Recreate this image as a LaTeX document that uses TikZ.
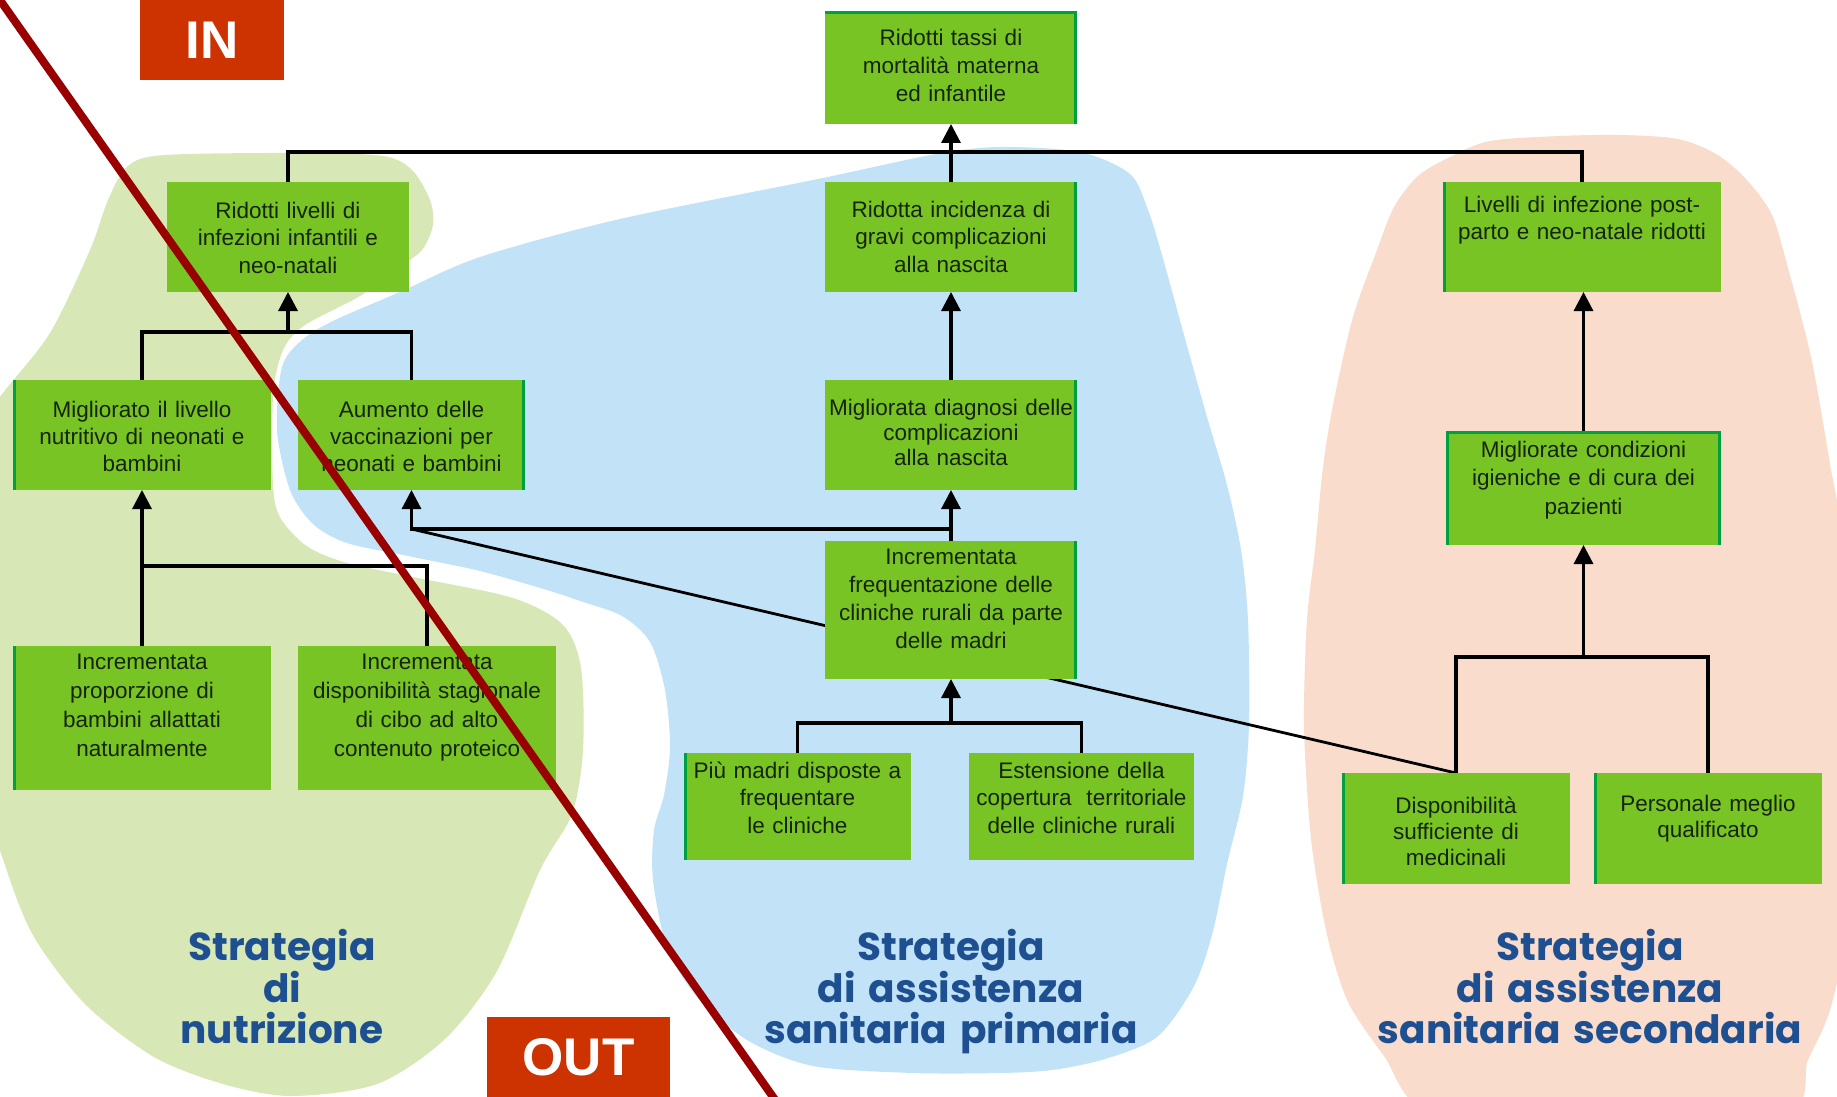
\documentclass[tikz,border=0pt]{standalone}
\usepackage{fontspec}
\setmainfont{Liberation Sans}
\newfontfamily\titlefont{Poppins}
\usetikzlibrary{arrows.meta}

\definecolor{boxgreen}{HTML}{78C424}
\definecolor{accentgreen}{HTML}{00A040}
\definecolor{blobgreen}{HTML}{D7E7B6}
\definecolor{blobblue}{HTML}{C2E3F7}
\definecolor{blobpink}{HTML}{F9DCCC}
\definecolor{titleblue}{HTML}{1D4F91}
\definecolor{tagred}{HTML}{CC3300}
\definecolor{slashred}{HTML}{990000}
\definecolor{inktext}{HTML}{16240A}

\pgfdeclarelayer{blobs}
\pgfdeclarelayer{wires}
\pgfdeclarelayer{top}
\pgfsetlayers{blobs,wires,main,top}

% coloured edge strips on the boxes
\newcommand\accentleft[1]{\draw[accent] ([xshift=1.5pt]#1.north west) -- ([xshift=1.5pt]#1.south west);}
\newcommand\accentright[1]{\draw[accent] ([xshift=-1.5pt]#1.north east) -- ([xshift=-1.5pt]#1.south east);}
\newcommand\accenttop[1]{\draw[accent] ([yshift=-1.5pt]#1.north west) -- ([yshift=-1.5pt]#1.north east);}

\begin{document}
\begin{tikzpicture}[x=1pt,y=-1pt,
  box/.style={fill=boxgreen, draw=none, inner sep=0pt, outer sep=0pt},
  txt/.style={font=\fontsize{22.5}{#1}\selectfont, text=inktext, align=center,
    inner sep=0pt, anchor=base},
  txt/.default=27.5,
  accent/.style={draw=accentgreen, line width=3pt},
  wire/.style={draw=black, line width=3.2pt},
  arr/.style={wire, -{Triangle[length=19pt,width=19pt]}},
  strat/.style={font=\titlefont\bfseries\fontsize{39}{40.5}\selectfont, text=titleblue,
    align=center, text width=470pt, inner sep=0pt, anchor=base},
  tag/.style={fill=tagred, text=white, inner sep=0pt, outer sep=0pt,
    font=\bfseries\fontsize{53}{53}\selectfont},
  slash/.style={draw=slashred, line width=8pt}
]
\useasboundingbox (0,0) rectangle (1837,1097);

% ---------- coloured strategy areas ----------
\begin{pgfonlayer}{blobs}
  \fill[white] (0,0) rectangle (1837,1097);
  \begin{scope}
  \clip (0,0) rectangle (1837,1097);
  \fill[blobgreen] plot[smooth cycle, tension=0.5] coordinates {
    (-30,440) (3,393) (50,333) (90,250) (108,200) (128,166) (165,155) (300,153)
    (383,156) (412,170) (430,200) (433,225) (422,250) (398,268) (360,296)
    (305,325) (284,348) (274,385) (272,440) (274,497) (283,522) (308,547)
    (347,563) (413,577) (513,598) (563,625) (581,668) (583,750) (572,814)
    (540,870) (497,971) (445,1039) (377,1084) (291,1096) (223,1084)
    (154,1057) (86,1005) (34,937) (6,868) (-15,790) (-30,620)};
  \fill[blobblue] plot[smooth cycle, tension=0.5] coordinates {
    (277,430) (282,367) (302,340) (335,320) (400,292) (480,257) (620,219)
    (818,179) (936,154) (1000,147) (1080,152) (1130,174) (1148,210)
    (1162,255) (1184,335) (1207,417) (1227,485) (1241,550) (1248,620)
    (1249,724) (1243,796) (1227,864) (1212,935) (1193,988) (1157,1037)
    (1105,1059) (1052,1070) (1000,1073) (913,1073) (813,1066) (747,1040)
    (697,997) (667,947) (653,880) (654,830) (664,795) (670,747) (665,690)
    (650,642) (622,616) (580,601) (547,590) (480,571) (413,557) (347,543)
    (313,524) (290,490)};
  \fill[blobpink] plot[smooth cycle, tension=0.5] coordinates {
    (1450,157) (1490,141) (1560,136) (1621,135) (1678,139) (1716,154)
    (1746,179) (1772,215) (1788,268) (1811,357) (1830,464) (1845,560)
    (1848,760) (1845,930) (1830,1010) (1808,1060) (1785,1115) (1600,1125)
    (1430,1112) (1384,1056) (1349,1004) (1331,951) (1320,899) (1310,829)
    (1304,724) (1307,620) (1315,550) (1323,467) (1334,400) (1353,317)
    (1377,250) (1394,207) (1418,176)};
  \end{scope}
\end{pgfonlayer}

% ---------- boxes ----------
\node[box, minimum width=252pt, minimum height=113pt] (top)  at (951,67.5) {};
\node[box, minimum width=242pt, minimum height=110pt] (inf)  at (288,237) {};
\node[box, minimum width=252pt, minimum height=110pt] (rinc) at (951,237) {};
\node[box, minimum width=278pt, minimum height=110pt] (liv)  at (1582,237) {};
\node[box, minimum width=258pt, minimum height=110pt] (nutr) at (142,435) {};
\node[box, minimum width=227pt, minimum height=110pt] (vacc) at (411.5,435) {};
\node[box, minimum width=252pt, minimum height=110pt] (diag) at (951,435) {};
\node[box, minimum width=275pt, minimum height=114pt] (igie) at (1583.5,488) {};
\node[box, minimum width=252pt, minimum height=138pt] (freq) at (951,610) {};
\node[box, minimum width=258pt, minimum height=144pt] (allat) at (142,718) {};
\node[box, minimum width=258pt, minimum height=144pt] (cibo) at (427,718) {};
\node[box, minimum width=227pt, minimum height=107pt] (madri) at (797.5,806.5) {};
\node[box, minimum width=225pt, minimum height=107pt] (estn) at (1081.5,806.5) {};
\node[box, minimum width=228pt, minimum height=111pt] (medi) at (1456,828.5) {};
\node[box, minimum width=228pt, minimum height=111pt] (pers) at (1708,828.5) {};

\accenttop{top}\accentright{top}
\accentleft{nutr}
\accentright{vacc}
\accentright{rinc}
\accentright{diag}
\accentright{freq}
\accentleft{liv}
\accentleft{igie}\accenttop{igie}\accentright{igie}
\accentleft{allat}
\accentleft{madri}
\accentleft{medi}
\accentleft{pers}

% ---------- box texts ----------
\node[txt=28, text width=244pt] (ttop) at ([yshift=-35pt]top.north)
  {Ridotti tassi di\\mortalità materna\\ed infantile};
\node[txt, text width=234pt] (tinf) at ([yshift=-36pt]inf.north)
  {Ridotti livelli di\\infezioni infantili e\\neo-natali};
\node[txt, text width=244pt] (trinc) at ([yshift=-35pt]rinc.north)
  {Ridotta incidenza di\\gravi complicazioni\\alla nascita};
\node[txt=27, text width=270pt] (tliv) at ([yshift=-30pt]liv.north)
  {Livelli di infezione post-\\parto e neo-natale ridotti};
\node[txt=27, text width=250pt] (tnutr) at ([yshift=-37pt]nutr.north)
  {Migliorato il livello\\nutritivo di neonati e\\bambini};
\node[txt=27, text width=219pt] (tvacc) at ([yshift=-37pt]vacc.north)
  {Aumento delle\\vaccinazioni per\\neonati e bambini};
\node[txt=25, text width=250pt] (tdiag) at ([yshift=-35pt]diag.north)
  {Migliorata diagnosi delle\\complicazioni\\alla nascita};
\node[txt=28.5, text width=267pt] (tigie) at ([yshift=-26pt]igie.north)
  {Migliorate condizioni\\igieniche e di cura dei\\pazienti};
\node[txt=28, text width=248pt] (tfreq) at ([yshift=-23pt]freq.north)
  {Incrementata\\frequentazione delle\\cliniche rurali da parte\\delle madri};
\node[txt=29, text width=250pt] (tallat) at ([yshift=-23pt]allat.north)
  {Incrementata\\proporzione di\\bambini allattati\\naturalmente};
\node[txt=29, text width=254pt] (tcibo) at ([yshift=-23pt]cibo.north)
  {Incrementata\\disponibilità stagionale\\di cibo ad alto\\contenuto proteico};
\node[txt, text width=223pt] (tmadri) at ([yshift=-25pt]madri.north)
  {Più madri disposte a\\frequentare\\le cliniche};
\node[txt, text width=223pt] (testn) at ([yshift=-25pt]estn.north)
  {Estensione della\\copertura~ territoriale\\delle cliniche rurali};
\node[txt=26, text width=220pt] (tmedi) at ([yshift=-40pt]medi.north)
  {Disponibilità\\sufficiente di\\medicinali};
\node[txt=26, text width=220pt] (tpers) at ([yshift=-38pt]pers.north)
  {Personale meglio\\qualificato};

% ---------- junction levels ----------
\coordinate (lvtop) at (0,152);
\coordinate (lvinf) at (0,332);
\coordinate (lvvacc) at (0,529);
\coordinate (lvnutr) at (0,566);
\coordinate (lvigie) at (0,657);
\coordinate (lvfreq) at (0,723);

% ---------- connectors ----------
\draw[wire] (inf.north) -- (inf.north |- lvtop) -| (liv.north);
\draw[arr] (rinc.north) -- (top.south);
\draw[arr] (diag.north) -- (rinc.south);
\draw[arr] (freq.north) -- (diag.south);
\draw[arr] (freq.north |- lvvacc) -| (vacc.south);

\draw[arr] (inf.south |- lvinf) -- (inf.south);
\draw[wire] (nutr.north) |- (inf.south |- lvinf) -| (vacc.north);

\draw[arr] (allat.north) -- (nutr.south);
\draw[wire] (nutr.south |- lvnutr) -| (cibo.north);

\draw[arr] (freq.south |- lvfreq) -- (freq.south);
\draw[wire] (madri.north) |- (freq.south |- lvfreq) -| (estn.north);

\draw[arr] (igie.north) -- (igie.north |- liv.south);
\draw[arr] (igie.south |- lvigie) -- (igie.south);
\draw[wire] (medi.north) |- (igie.south |- lvigie) -| (pers.north);

\begin{pgfonlayer}{wires}
  \draw[wire, line width=2.8pt] (vacc.south |- lvvacc) -- (medi.north);
\end{pgfonlayer}

% ---------- strategy titles ----------
\node[strat] (snutr) at (282,960) {Strategia\\di\\nutrizione};
\node[strat] (sprim) at (951,960) {Strategia\\di assistenza\\sanitaria primaria};
\node[strat] (ssec)  at (1590,960) {Strategia\\di assistenza\\sanitaria secondaria};

% ---------- IN / OUT divide ----------
\begin{pgfonlayer}{top}
  \coordinate (slashA) at (-5,-7);
  \coordinate (slashB) at (778,1104);
  \draw[slash] (slashA) -- (slashB);
  \node[tag, minimum width=144pt, minimum height=80pt] (tagin) at (212,40) {IN};
  \node[tag, minimum width=183pt, minimum height=80pt] (tagout) at (578.5,1057) {OUT};
\end{pgfonlayer}
\end{tikzpicture}
\end{document}
